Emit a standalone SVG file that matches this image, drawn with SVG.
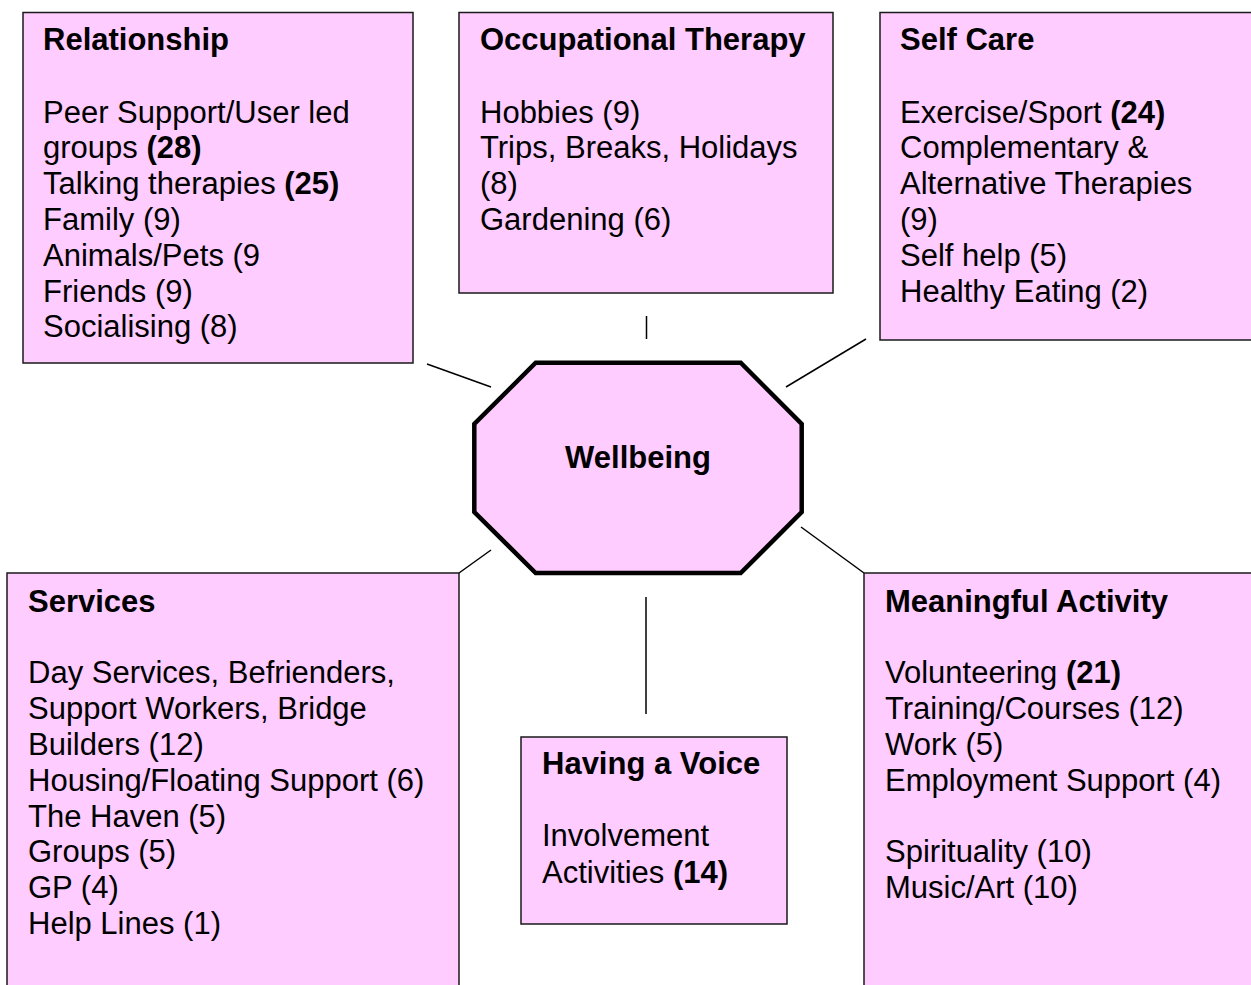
<svg xmlns="http://www.w3.org/2000/svg" width="1251" height="985" viewBox="0 0 1251 985">
  <style>
    .box { fill: #FFCCFF; stroke: #1a1a1a; stroke-width: 1.5; }
    .hub { fill: #FFCCFF; stroke: #000; stroke-width: 4.5; stroke-linejoin: miter; }
    .link { stroke: #000; stroke-width: 1.5; fill: none; }
    text { font-family: "Liberation Sans", Arial, sans-serif; font-size: 31px; fill: #000; }
    .h { font-weight: bold; }
    .b { font-weight: bold; }
  </style>
  <rect width="1251" height="985" fill="#fff"/>

  <!-- spokes from the hub to each theme box -->
  <g id="connectors">
    <line class="link" x1="427" y1="364" x2="491" y2="387"/>
    <line class="link" x1="646.5" y1="316" x2="646.5" y2="339"/>
    <line class="link" x1="786" y1="387" x2="866" y2="339"/>
    <line class="link" x1="491" y1="550" x2="459" y2="573"/>
    <line class="link" x1="801" y1="527" x2="864" y2="573"/>
    <line class="link" x1="646" y1="597" x2="646" y2="714"/>
  </g>

  <g id="wellbeing">
    <polygon class="hub" points="535.7,362.7 740.7,362.7 801.7,424 801.7,512 740.7,573 535.7,573 474.3,512 474.3,424"/>
    <text class="h" x="638" y="468" text-anchor="middle">Wellbeing</text>
  </g>

  <g id="relationship">
    <rect class="box" x="23" y="12.5" width="390" height="350.5"/>
    <text x="43">
      <tspan class="h" x="43" y="50">Relationship</tspan>
      <tspan x="43" y="122.6">Peer Support/User led</tspan>
      <tspan x="43" y="158.4">groups <tspan class="b">(28)</tspan></tspan>
      <tspan x="43" y="194.2">Talking therapies <tspan class="b">(25)</tspan></tspan>
      <tspan x="43" y="230">Family (9)</tspan>
      <tspan x="43" y="265.8">Animals/Pets (9</tspan>
      <tspan x="43" y="301.6">Friends (9)</tspan>
      <tspan x="43" y="337.4">Socialising (8)</tspan>
    </text>
  </g>

  <g id="occupational-therapy">
    <rect class="box" x="459" y="12.5" width="374" height="280.5"/>
    <text x="480">
      <tspan class="h" x="480" y="50">Occupational Therapy</tspan>
      <tspan x="480" y="122.6">Hobbies (9)</tspan>
      <tspan x="480" y="158.4">Trips, Breaks, Holidays</tspan>
      <tspan x="480" y="194.2">(8)</tspan>
      <tspan x="480" y="230">Gardening (6)</tspan>
    </text>
  </g>

  <g id="self-care">
    <rect class="box" x="880" y="12.5" width="380" height="327.5"/>
    <text x="900">
      <tspan class="h" x="900" y="50">Self Care</tspan>
      <tspan x="900" y="122.6">Exercise/Sport <tspan class="b">(24)</tspan></tspan>
      <tspan x="900" y="158.4">Complementary &amp;</tspan>
      <tspan x="900" y="194.2">Alternative Therapies</tspan>
      <tspan x="900" y="230">(9)</tspan>
      <tspan x="900" y="265.8">Self help (5)</tspan>
      <tspan x="900" y="301.6">Healthy Eating (2)</tspan>
    </text>
  </g>

  <g id="services">
    <rect class="box" x="7" y="573" width="452" height="430"/>
    <text x="28">
      <tspan class="h" x="28" y="611.5">Services</tspan>
      <tspan x="28" y="683.3">Day Services, Befrienders,</tspan>
      <tspan x="28" y="719.1">Support Workers, Bridge</tspan>
      <tspan x="28" y="754.9">Builders (12)</tspan>
      <tspan x="28" y="790.7">Housing/Floating Support (6)</tspan>
      <tspan x="28" y="826.5">The Haven (5)</tspan>
      <tspan x="28" y="862.3">Groups (5)</tspan>
      <tspan x="28" y="898.1">GP (4)</tspan>
      <tspan x="28" y="933.9">Help Lines (1)</tspan>
    </text>
  </g>

  <g id="having-a-voice">
    <rect class="box" x="521" y="737" width="266" height="187"/>
    <text x="542">
      <tspan class="h" x="542" y="774">Having a Voice</tspan>
      <tspan x="542" y="846">Involvement</tspan>
      <tspan x="542" y="882.5">Activities <tspan class="b">(14)</tspan></tspan>
    </text>
  </g>

  <g id="meaningful-activity">
    <rect class="box" x="864" y="573" width="400" height="430"/>
    <text x="885">
      <tspan class="h" x="885" y="611.5">Meaningful Activity</tspan>
      <tspan x="885" y="683.3">Volunteering <tspan class="b">(21)</tspan></tspan>
      <tspan x="885" y="719.1">Training/Courses (12)</tspan>
      <tspan x="885" y="754.9">Work (5)</tspan>
      <tspan x="885" y="790.7">Employment Support (4)</tspan>
      <tspan x="885" y="862.3">Spirituality (10)</tspan>
      <tspan x="885" y="898.1">Music/Art (10)</tspan>
    </text>
  </g>
</svg>
